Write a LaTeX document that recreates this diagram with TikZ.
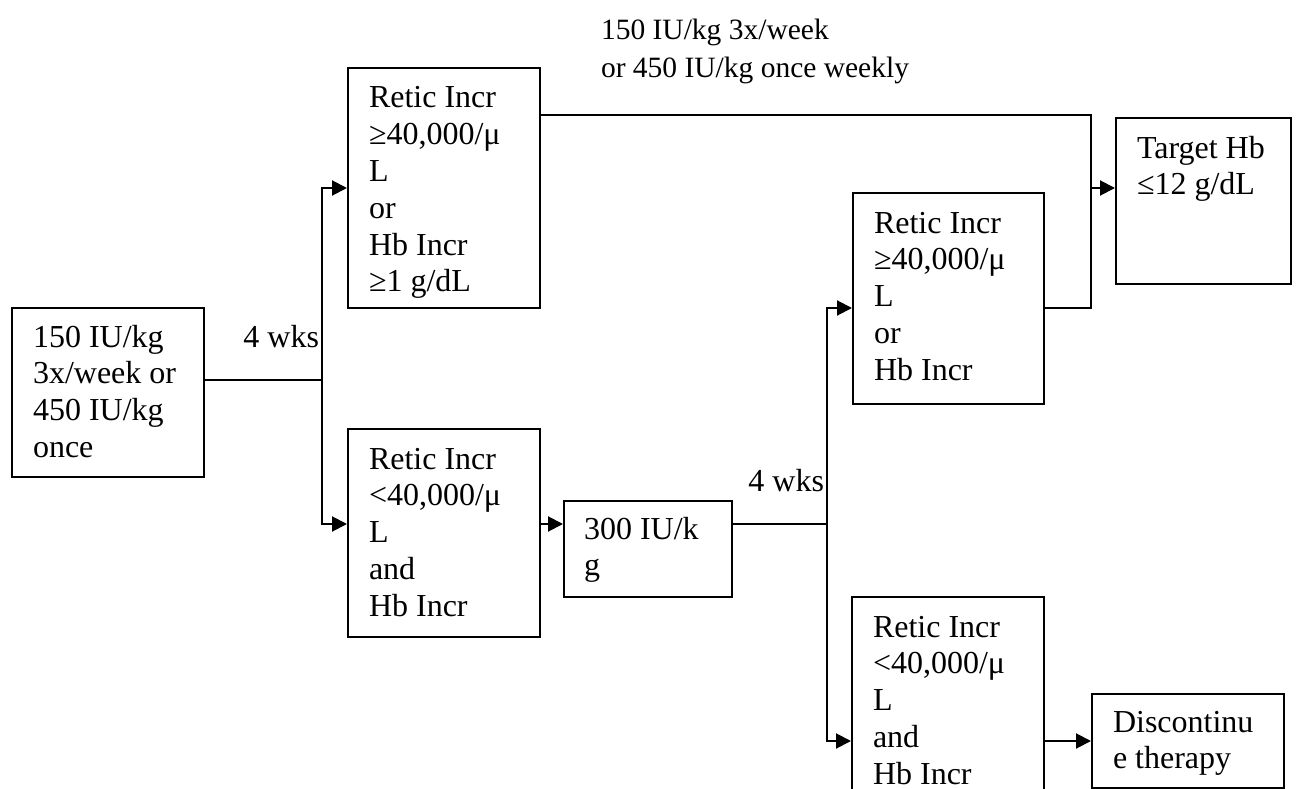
\documentclass[tikz,border=0pt]{standalone}
\usepackage{fontspec}
\setmainfont{Liberation Serif}
\usetikzlibrary{positioning, arrows.meta}

\begin{document}
\begin{tikzpicture}[x=1pt, y=-1pt, line width=2pt, >={Triangle[length=15pt, width=15pt]}]
  \fontsize{32}{36.8}\selectfont
  \useasboundingbox (0,0) rectangle (1312,789);

  % Set the node styles
  \tikzset{flowbox/.style={draw, rectangle, anchor=north west, inner sep=0pt},
           boxtext/.style={anchor=base west, inner sep=0pt},
           wklabel/.style={anchor=base east, inner sep=0pt}}

  % Draw the boxes
  \foreach \name/\x/\y/\w/\h in {A/11/307/192/169, B/347/67/192/240, C/347/428/192/208,
                                 P/563/500/168/96, D/852/192/191/211, E/851/596/192/240,
                                 T/1115/117/175/166, X/1091/693/192/94}{
    \node[flowbox, minimum width=\w, minimum height=\h] (\name) at (\x,\y) {};
  }

  % Fill in the box texts
  \node[boxtext] (Atext) at ([shift={(21,40)}]A.north west) {\parbox[t]{190pt}{150 IU/kg\\3x/week or\\450 IU/kg\\once}};
  \node[boxtext] (Btext) at ([shift={(21,41)}]B.north west) {\parbox[t]{190pt}{Retic Incr\\≥40,000/μ\\L\\or\\Hb Incr\\≥1 g/dL}};
  \node[boxtext] (Ctext) at ([shift={(21,41)}]C.north west) {\parbox[t]{190pt}{Retic Incr\\<40,000/μ\\L\\and\\Hb Incr}};
  \node[boxtext] (Ptext) at ([shift={(20,39)}]P.north west) {\parbox[t]{190pt}{300 IU/k\\g}};
  \node[boxtext] (Dtext) at ([shift={(21,41)}]D.north west) {\parbox[t]{190pt}{Retic Incr\\≥40,000/μ\\L\\or\\Hb Incr}};
  \node[boxtext] (Etext) at ([shift={(21,41)}]E.north west) {\parbox[t]{190pt}{Retic Incr\\<40,000/μ\\L\\and\\Hb Incr}};
  \node[boxtext] (Ttext) at ([shift={(21,41)}]T.north west) {\parbox[t]{190pt}{Target Hb\\≤12 g/dL}};
  \node[boxtext] (Xtext) at ([shift={(21,39)}]X.north west) {\parbox[t]{190pt}{Discontinu\\e therapy}};

  % Labels on the branches
  \node[boxtext, font=\fontsize{29.5}{37.5}\selectfont] (dose) at (600,40)
    {\parbox[t]{420pt}{150 IU/kg 3x/week\\or 450 IU/kg once weekly}};
  \node[wklabel] (wk1) at (320,347) {4 wks};
  \node[wklabel] (wk2) at (825,491) {4 wks};

  % Branch points
  \coordinate (j1) at (322,380);
  \coordinate (j2) at (827,524);
  \coordinate (k) at (1091,308);
  \coordinate (b) at (1091,115);

  % Connect the boxes
  \draw (A.east |- j1) -- (j1);
  \draw[->] (j1) |- (B.west);
  \draw[->] (j1) |- (C.west |- j2);
  \draw[->] (C.east |- j2) -- (P.west |- j2);
  \draw (P.east |- j2) -- (j2);
  \draw[->] (j2) |- (D.west |- k);
  \draw[->] (j2) |- (E.west |- X.west);
  \draw[->] (E.east |- X.west) -- (X.west);
  \draw (D.east |- k) -- (k) -- (b) -- (B.east |- b);
  \draw[->] (k |- B.west) -- (T.west |- B.west);
\end{tikzpicture}
\end{document}
